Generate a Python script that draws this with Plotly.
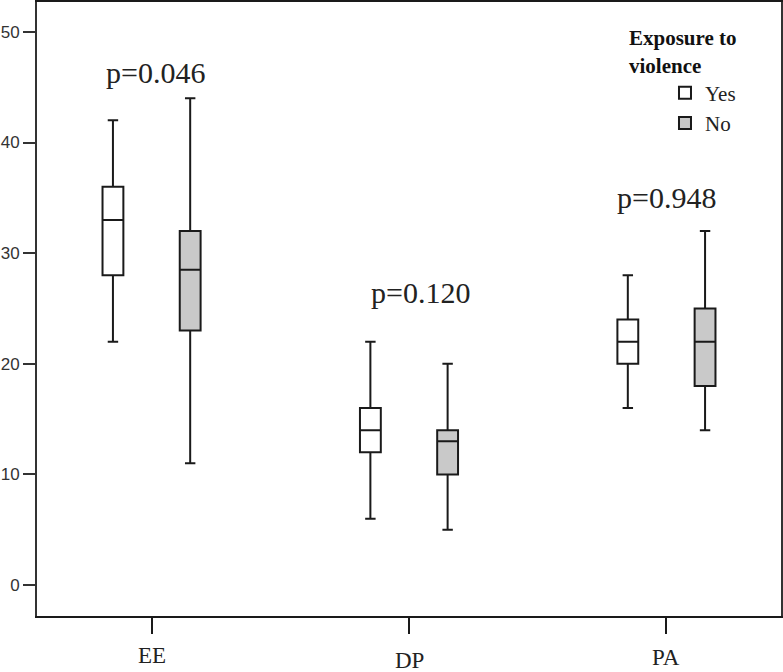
import plotly.graph_objects as go

categories = ["EE", "DP", "PA"]
groups = ["Yes", "No"]

# box statistics
yes_low = [22, 6, 16]
yes_q1 = [28, 12, 20]
yes_med = [33, 14, 22]
yes_q3 = [36, 16, 24]
yes_high = [42, 22, 28]

no_low = [11, 5, 14]
no_q1 = [23, 10, 18]
no_med = [28.5, 13, 22]
no_q3 = [32, 14, 25]
no_high = [44, 20, 32]

p_labels = ["p=0.046", "p=0.120", "p=0.948"]
p_y = [46.3, 26.4, 35.0]
p_xshift = [4, 11, 0]

ytick_vals = [0, 10, 20, 30, 40, 50]
label_shift = [-39, -44, -41]

serif = "Liberation Serif, Times New Roman, serif"
line_col = "#1a1a1a"

fig = go.Figure()
fig.add_trace(go.Box(
    name="Yes", x=categories, q1=yes_q1, median=yes_med, q3=yes_q3,
    lowerfence=yes_low, upperfence=yes_high,
    fillcolor="white", line=dict(color=line_col, width=2),
    whiskerwidth=0.5, boxpoints=False, hoverinfo="skip",
))
fig.add_trace(go.Box(
    name="No", x=categories, q1=no_q1, median=no_med, q3=no_q3,
    lowerfence=no_low, upperfence=no_high,
    fillcolor="#c9c9c9", line=dict(color=line_col, width=2),
    whiskerwidth=0.5, boxpoints=False, hoverinfo="skip",
))

annotations = []
for c, t, y, xs in zip(categories, p_labels, p_y, p_xshift):
    annotations.append(dict(
        x=c, y=y, xref="x", yref="y", text=t, showarrow=False,
        xshift=xs, font=dict(family=serif, size=30, color="#222"),
        xanchor="center", yanchor="middle",
    ))
for c, s in zip(categories, label_shift):
    annotations.append(dict(
        x=c, y=0, xref="x", yref="paper", text=c, showarrow=False,
        yshift=s, font=dict(family=serif, size=23, color="#222"),
        xanchor="center", yanchor="middle",
    ))

fig.update_layout(
    width=783, height=672,
    margin=dict(l=37, r=2, t=2, b=56, autoexpand=False),
    paper_bgcolor="white", plot_bgcolor="white",
    boxmode="group", boxgap=0.40, boxgroupgap=0.73,
    showlegend=True,
    legend=dict(
        x=0.793, y=0.974, xanchor="left", yanchor="top",
        bgcolor="rgba(0,0,0,0)", borderwidth=0,
        title=dict(text="<b>Exposure to<br>violence</b>",
                   font=dict(family=serif, size=21, color="#111"), side="top"),
        font=dict(family=serif, size=21, color="#222"),
        indentation=38, itemwidth=30,
    ),
    annotations=annotations,
    xaxis=dict(
        type="category", categoryorder="array", categoryarray=categories,
        range=[-0.445, 2.445], showgrid=False, zeroline=False,
        showline=True, linecolor=line_col, linewidth=2, mirror=True,
        ticks="outside", ticklen=16, tickwidth=2, tickcolor=line_col,
        showticklabels=False, automargin=False,
    ),
    yaxis=dict(
        range=[-2.8, 52.7], tickvals=ytick_vals, showgrid=False, zeroline=False,
        showline=True, linecolor="#333", linewidth=2, mirror=True,
        ticks="outside", ticklen=12, tickwidth=2, tickcolor="#333",
        tickfont=dict(family="Liberation Sans, Arial, sans-serif", size=17, color="#333"),
        automargin=False,
    ),
)

fig.write_html(
    "out.html",
    config={"displayModeBar": False},
    post_script="document.body.style.margin='0';document.body.style.overflow='hidden';",
)
